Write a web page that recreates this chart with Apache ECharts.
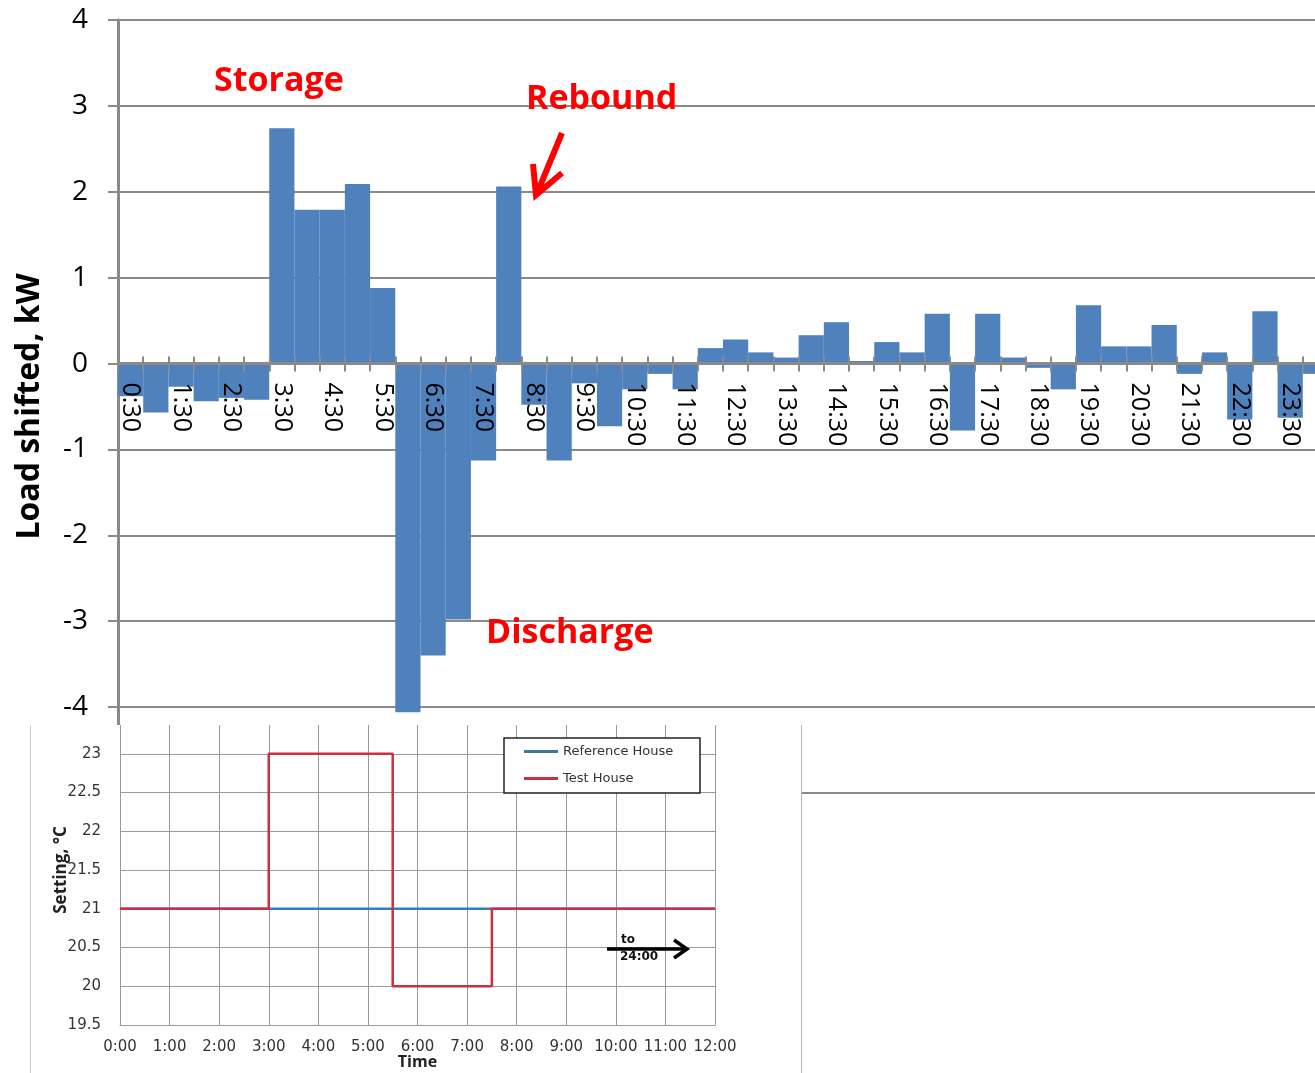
<!DOCTYPE html>
<html>
<head>
<meta charset="utf-8">
<title>Load shifted by thermostat setpoint schedule</title>
<script src="https://cdn.jsdelivr.net/npm/echarts@6/dist/echarts.min.js"></script>
<style>
  html, body { margin: 0; padding: 0; background: #fff; }
  #main { position: absolute; left: 0; top: 0; width: 1315px; height: 1073px; }
  #insetBox {
    position: absolute; left: 30px; top: 725px; width: 772px; height: 348px;
    overflow: hidden; background: #fff; box-sizing: border-box;
    border-left: 1px solid #cfcfcf; border-right: 1px solid #b4b4b4;
  }
  #inset { position: absolute; left: -1px; top: -10px; width: 772px; height: 358px; filter: blur(0.45px); }
</style>
</head>
<body>
<div id="main"></div>
<div id="insetBox"><div id="inset"></div></div>
<script>
// Half-hour slots (end of each interval)
const slotLabels = [
  '0:30','1:00','1:30','2:00','2:30','3:00','3:30','4:00','4:30','5:00','5:30','6:00',
  '6:30','7:00','7:30','8:00','8:30','9:00','9:30','10:00','10:30','11:00','11:30','12:00',
  '12:30','13:00','13:30','14:00','14:30','15:00','15:30','16:00','16:30','17:00','17:30','18:00',
  '18:30','19:00','19:30','20:00','20:30','21:00','21:30','22:00','22:30','23:00','23:30','24:00'
];

// Load shifted (test house minus reference house), kW
const loadShifted = [
  -0.38, -0.57, -0.27, -0.44, -0.40, -0.42, 2.74, 1.79, 1.79, 2.09, 0.88, -4.06,
  -3.40, -2.98, -1.13, 2.06, -0.48, -1.13, -0.23, -0.73, -0.30, -0.12, -0.30, 0.18,
  0.28, 0.13, 0.07, 0.33, 0.48, 0.03, 0.25, 0.13, 0.58, -0.78, 0.58, 0.07,
  -0.05, -0.30, 0.68, 0.20, 0.20, 0.45, -0.12, 0.13, -0.65, 0.61, -0.63, -0.12
];

// Thermostat setpoint schedules (hours, degC); each value holds until the next hour listed
const referenceHours = [0, 12];
const referenceSetting = [21, 21];
const testHours = [0, 3, 5.5, 7.5, 12];
const testSetting = [21, 23, 20, 21, 21];

// Inset time axis labels
const hourLabels = ['0:00','1:00','2:00','3:00','4:00','5:00','6:00','7:00','8:00','9:00','10:00','11:00','12:00'];

const GRID_GRAY = '#8a8a8a';
const BAR_BLUE = '#4f81bd';
const RED = '#ff0000';

// main plot geometry: value range -5..4 over 773 px, category axis drawn on the zero line
const PLOT_TOP = 20, PLOT_H = 773, Y_MIN = -5, Y_MAX = 4;
const zeroOffset = -(PLOT_H * (0 - Y_MIN) / (Y_MAX - Y_MIN));

// ---------- main bar chart ----------
const mainChart = echarts.init(document.getElementById('main'));
mainChart.setOption({
  animation: false,
  grid: { left: 118, top: PLOT_TOP, width: 1210, height: PLOT_H, outerBoundsMode: 'none' },
  xAxis: [
    {
      type: 'category',
      data: slotLabels,
      boundaryGap: true,
      z: 5,
      offset: zeroOffset,
      axisLine: { onZero: false, lineStyle: { color: GRID_GRAY, width: 3 } },
      axisTick: { show: true, interval: 0, length: 8, lineStyle: { color: GRID_GRAY, width: 2 } },
      axisLabel: {
        interval: 1, rotate: -90, margin: 19, color: '#000',
        fontSize: 25, fontFamily: 'Open Sans'
      },
      splitLine: { show: false }
    },
    {
      // inner half of the crossing tick marks on the zero line
      type: 'category',
      data: slotLabels,
      position: 'bottom',
      z: 5,
      offset: zeroOffset,
      axisLine: { show: false, onZero: false },
      axisTick: { show: true, inside: true, interval: 0, length: 7, lineStyle: { color: GRID_GRAY, width: 2 } },
      axisLabel: { show: false },
      splitLine: { show: false }
    }
  ],
  yAxis: {
    type: 'value',
    min: Y_MIN, max: Y_MAX, interval: 1,
    name: 'Load shifted, kW',
    nameLocation: 'middle',
    nameGap: 72,
    nameTextStyle: { fontSize: 32, fontWeight: 'bold', fontFamily: 'Open Sans', color: '#000' },
    axisLine: { show: true, lineStyle: { color: GRID_GRAY, width: 3 } },
    axisTick: { show: true, length: 10, lineStyle: { color: GRID_GRAY, width: 2 } },
    axisLabel: { fontSize: 28, color: '#000', margin: 30, fontFamily: 'Open Sans' },
    splitLine: { show: true, lineStyle: { color: GRID_GRAY, width: 2 } }
  },
  series: [{
    type: 'bar',
    data: loadShifted,
    barCategoryGap: '0%',
    itemStyle: { color: BAR_BLUE },
    z: 2
  }],
  graphic: [
    { type: 'text', z: 20, style: { x: 214, y: 81, text: 'Storage', fill: RED,
      font: 'bold 34px "Open Sans"', textVerticalAlign: 'middle' } },
    { type: 'text', z: 20, style: { x: 526, y: 99, text: 'Rebound', fill: RED,
      font: 'bold 34px "Open Sans"', textVerticalAlign: 'middle' } },
    { type: 'text', z: 20, style: { x: 486, y: 633, text: 'Discharge', fill: RED,
      font: 'bold 34px "Open Sans"', textVerticalAlign: 'middle' } },
    { type: 'polyline', z: 20, shape: { points: [[562, 133], [538, 191]] },
      style: { stroke: RED, lineWidth: 6, fill: null } },
    { type: 'polyline', z: 20, shape: { points: [[533, 164], [536, 195], [562, 173]] },
      style: { stroke: RED, lineWidth: 6, fill: null, lineJoin: 'miter' } }
  ]
});

// ---------- inset: thermostat setting schedule ----------
const toPairs = (xs, ys) => xs.map((x, i) => [x, ys[i]]);
const insetChart = echarts.init(document.getElementById('inset'));
const INSET_FONT = 'DejaVu Sans';
insetChart.setOption({
  animation: false,
  grid: { left: 90, top: 0, width: 595, height: 310, outerBoundsMode: 'none' },
  xAxis: {
    type: 'value', min: 0, max: 12, interval: 1,
    name: 'Time', nameLocation: 'middle', nameGap: 29, nameMoveOverlap: false,
    nameTextStyle: { fontSize: 16, fontWeight: 'bold', fontFamily: 'Open Sans', color: '#222' },
    axisLine: { show: true, lineStyle: { color: '#9a9a9a', width: 1 } },
    axisTick: { show: false },
    axisLabel: { formatter: v => hourLabels[v], fontSize: 15, color: '#333', fontFamily: INSET_FONT, margin: 15 },
    splitLine: { show: true, lineStyle: { color: '#9a9a9a', width: 1 } }
  },
  yAxis: {
    type: 'value', min: 19.5, max: 23.5, interval: 0.5,
    name: 'Setting, \u00B0C', nameLocation: 'middle', nameGap: 50, nameMoveOverlap: false,
    nameTextStyle: { fontSize: 17, fontWeight: 'bold', fontFamily: 'Open Sans', color: '#222' },
    axisLine: { show: true, lineStyle: { color: '#9a9a9a', width: 1 } },
    axisTick: { show: false },
    axisLabel: { fontSize: 15, color: '#333', fontFamily: INSET_FONT, margin: 19, showMaxLabel: false },
    splitLine: { show: true, lineStyle: { color: '#9a9a9a', width: 1 } }
  },
  legend: {
    left: 494, top: 30, orient: 'vertical', itemGap: 14, padding: 0,
    icon: 'rect', itemWidth: 34, itemHeight: 3, z: 10,
    textStyle: { fontSize: 13, color: '#333', fontFamily: INSET_FONT },
    data: ['Reference House', 'Test House']
  },
  series: [
    { name: 'Reference House', type: 'line', step: 'end', symbol: 'none', z: 2,
      data: toPairs(referenceHours, referenceSetting),
      lineStyle: { color: '#3a78c2', width: 2.5 }, itemStyle: { color: '#3a7a9a' } },
    { name: 'Test House', type: 'line', step: 'end', symbol: 'none', z: 3,
      data: toPairs(testHours, testSetting),
      lineStyle: { color: '#cc2f3f', width: 2.5 }, itemStyle: { color: '#c8304a' } }
  ],
  graphic: [
    { type: 'rect', z: 5, shape: { x: 474, y: 23, width: 196, height: 55 },
      style: { fill: '#fff', stroke: '#222', lineWidth: 1.5 } },
    { type: 'text', z: 6, style: { x: 591, y: 225, text: 'to', fill: '#111',
      font: 'bold 12px "DejaVu Sans"', textVerticalAlign: 'middle' } },
    { type: 'text', z: 6, style: { x: 590, y: 242, text: '24:00', fill: '#111',
      font: 'bold 12px "DejaVu Sans"', textVerticalAlign: 'middle' } },
    { type: 'polyline', z: 6, shape: { points: [[577, 234], [655, 234]] },
      style: { stroke: '#000', lineWidth: 3.5, fill: null } },
    { type: 'polyline', z: 6, shape: { points: [[644, 225], [657, 234], [644, 243]] },
      style: { stroke: '#000', lineWidth: 3.5, fill: null, lineJoin: 'miter' } }
  ]
});
</script>
</body>
</html>
